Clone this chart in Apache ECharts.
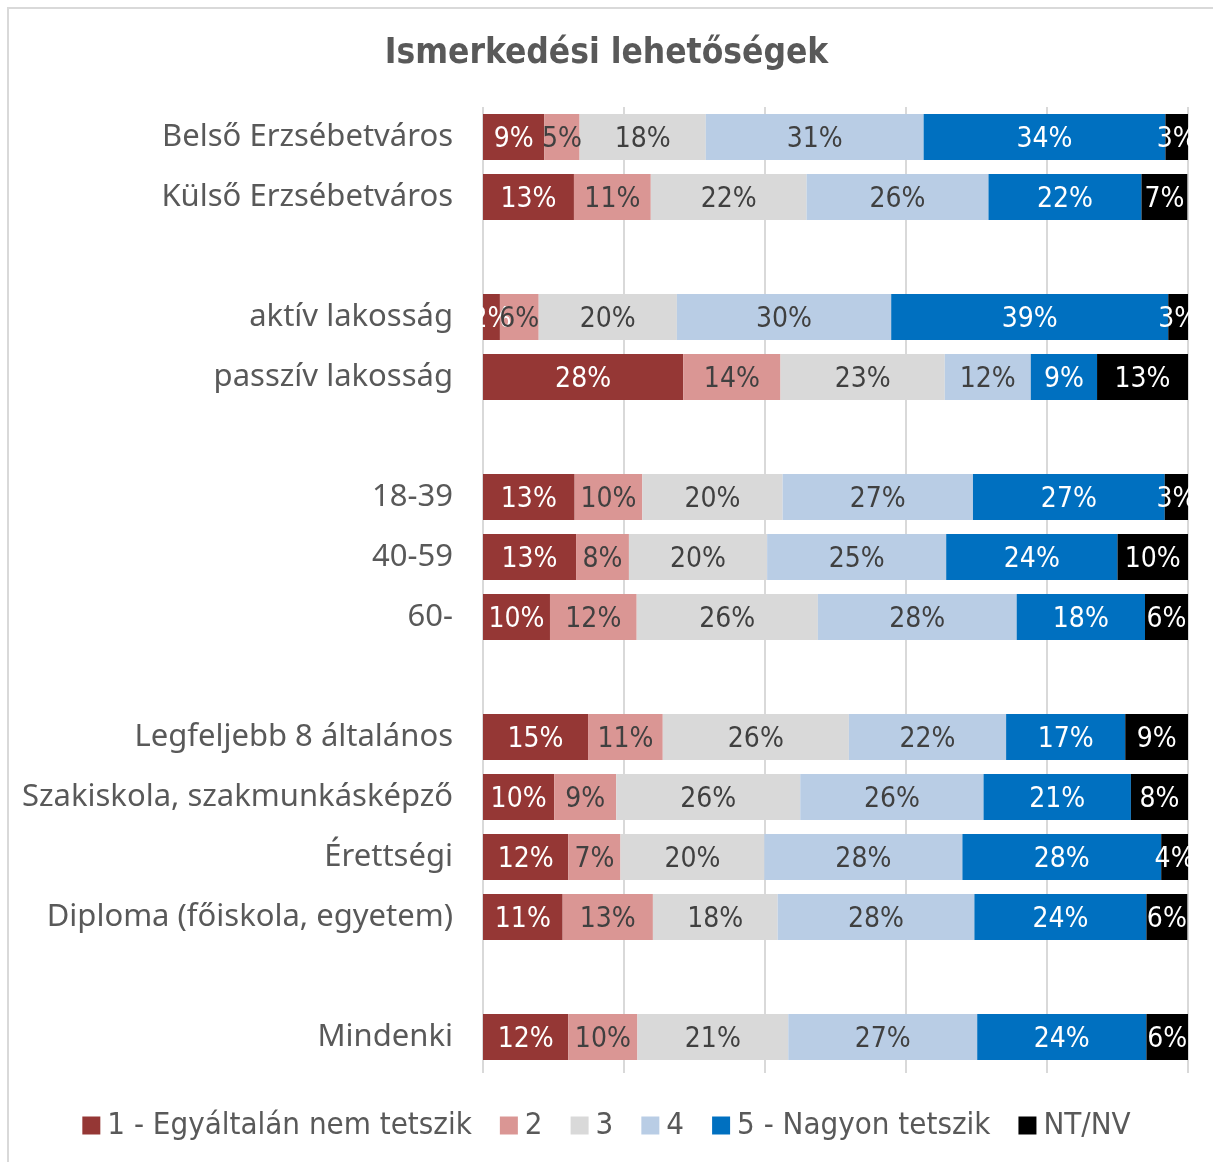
<!DOCTYPE html>
<html>
<head>
<meta charset="utf-8">
<script src="https://cdn.jsdelivr.net/npm/echarts@6/dist/echarts.min.js"></script>
<style>
html, body { margin: 0; padding: 0; background: #fff; }
#main { width: 1213px; height: 1162px; }
</style>
</head>
<body>
<div id="main"></div>
<script>
// kategóriák (üres sorok = elválasztók)
var categories = ['Belső Erzsébetváros', 'Külső Erzsébetváros', ' ',
  'aktív lakosság', 'passzív lakosság', '  ',
  '18-39', '40-59', '60-', '   ',
  'Legfeljebb 8 általános', 'Szakiskola, szakmunkásképző', 'Érettségi', 'Diploma (főiskola, egyetem)', '    ',
  'Mindenki'];

var seriesNames = ['1 - Egyáltalán nem tetszik', '2', '3', '4', '5 - Nagyon tetszik', 'NT/NV'];

var v1   = [8.7, 12.9, null, 2.4, 28.4, null, 13.0, 13.2, 9.5, null, 14.9, 10.1, 12.1, 11.3, null, 12.1];
var v2   = [5.0, 10.9, null, 5.5, 13.8, null, 9.6, 7.5, 12.3, null, 10.6, 8.8, 7.4, 12.8, null, 9.8];
var v3   = [17.9, 22.1, null, 19.6, 23.3, null, 19.9, 19.6, 25.7, null, 26.4, 26.1, 20.4, 17.7, null, 21.4];
var v4   = [30.9, 25.8, null, 30.4, 12.2, null, 27.0, 25.4, 28.2, null, 22.3, 26.0, 28.1, 27.9, null, 26.8];
var v5   = [34.3, 21.7, null, 39.3, 9.4, null, 27.2, 24.3, 18.2, null, 16.9, 20.9, 28.2, 24.4, null, 24.0];
var vNT  = [3.3, 6.5, null, 2.8, 12.9, null, 3.3, 10.1, 6.1, null, 8.9, 8.2, 3.8, 5.8, null, 6.0];

var values = [v1, v2, v3, v4, v5, vNT];
var colors = ['#953735', '#DA9694', '#D9D9D9', '#B9CDE5', '#0070C0', '#000000'];
var labelColors = ['#ffffff', '#404040', '#404040', '#404040', '#ffffff', '#ffffff'];

var narrowFont = '"DejaVu Sans Condensed", "Liberation Sans Narrow", sans-serif';

var myChart = echarts.init(document.getElementById('main'));

var series = seriesNames.map(function (name, i) {
  return {
    name: name,
    type: 'bar',
    stack: 'total',
    barWidth: 46,
    itemStyle: { color: colors[i] },
    label: {
      show: true,
      position: 'inside',
      offset: [0, 3],
      color: labelColors[i],
      fontFamily: narrowFont,
      fontSize: 28,
      formatter: function (p) { return Math.round(p.value) + '%'; }
    },
    data: values[i]
  };
});

var option = {
  backgroundColor: '#ffffff',
  animation: false,
  color: colors,
  title: {
    text: 'Ismerkedési lehetőségek',
    left: 'center',
    top: 31,
    textStyle: {
      color: '#595959',
      fontSize: 35,
      fontWeight: 'bold',
      fontFamily: narrowFont
    }
  },
  legend: {
    data: seriesNames,
    bottom: 16,
    left: 'center',
    itemWidth: 18,
    itemHeight: 18,
    itemGap: 28,
    icon: 'rect',
    textStyle: {
      color: '#595959',
      fontSize: 31,
      padding: [0, 0, 0, 2],
      fontFamily: narrowFont
    }
  },
  grid: { left: 483, right: 25, top: 107, bottom: 95, containLabel: false },
  xAxis: {
    type: 'value',
    min: 0,
    max: 100,
    interval: 20,
    axisLabel: { show: false },
    axisLine: { show: false },
    axisTick: { show: true, length: 6, lineStyle: { color: '#D9D9D9', width: 2 } },
    splitLine: { show: true, lineStyle: { color: '#D9D9D9', width: 2 } }
  },
  yAxis: {
    type: 'category',
    inverse: true,
    data: categories,
    axisLine: { show: false },
    axisTick: { show: false },
    axisLabel: {
      margin: 30,
      padding: [5, 0, 0, 0],
      color: '#595959',
      fontSize: 31,
      fontFamily: '"Noto Sans", "Open Sans", sans-serif'
    }
  },
  graphic: [{
    type: 'rect',
    shape: { x: 8, y: 8, width: 1230, height: 1180 },
    style: { fill: null, stroke: '#D9D9D9', lineWidth: 2 },
    silent: true
  }],
  series: series
};

myChart.setOption(option);
window.onresize = function () {
  myChart.resize();
};
</script>
</body>
</html>
